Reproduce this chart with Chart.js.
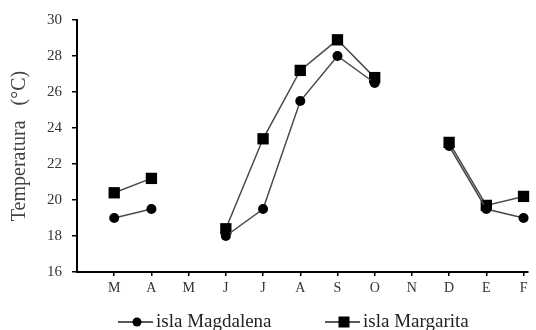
<!DOCTYPE html>
<html>
<head>
<meta charset="utf-8">
<script src="https://cdn.jsdelivr.net/npm/chart.js@4/dist/chart.umd.min.js"></script>
<style>
  html, body { margin:0; padding:0; background:#fff; }
  #wrap { width:536px; height:330px; position:relative; }
</style>
</head>
<body>
<div id="wrap"><canvas id="chart"></canvas></div>
<script>
// months from March to February
const months = ['M','A','M','J','J','A','S','O','N','D','E','F'];
const magdalena = [19.0, 19.5, null, 18.0, 19.5, 25.5, 28.0, 26.5, null, 23.0, 19.5, 19.0];
const margarita = [20.4, 21.2, null, 18.4, 23.4, 27.2, 28.9, 26.8, null, 23.2, 19.7, 20.2];
const yTicks = [16, 18, 20, 22, 24, 26, 28, 30];

const serif = '"Liberation Serif", "Times New Roman", serif';

const toPts = arr => arr.map((v, i) => ({ x: i, y: v }));

// legend drawn at the bottom: line + marker + label
const bottomLegend = {
  id: 'bottomLegend',
  afterDraw(chart){
    const ctx = chart.ctx;
    const items = [
      { ds: chart.data.datasets[0], x: 118 },
      { ds: chart.data.datasets[1], x: 325 }
    ];
    const y = 322;
    ctx.save();
    items.forEach(it => {
      ctx.strokeStyle = '#222';
      ctx.lineWidth = 1.5;
      ctx.beginPath(); ctx.moveTo(it.x, y); ctx.lineTo(it.x + 35, y); ctx.stroke();
      ctx.fillStyle = '#000';
      const cx = it.x + 19;
      if (it.ds.pointStyle === 'rect') {
        ctx.fillRect(cx - 5.5, y - 5.5, 11, 11);
      } else {
        ctx.beginPath(); ctx.arc(cx, y, 4.5, 0, Math.PI*2); ctx.fill();
      }
      ctx.fillStyle = '#222';
      ctx.font = '19px ' + serif;
      ctx.textBaseline = 'middle';
      ctx.fillText(it.ds.label, it.x + 38, y);
    });
    ctx.restore();
  }
};

new Chart(document.getElementById('chart'), {
  type: 'line',
  data: {
    datasets: [
      {
        label: 'isla Magdalena',
        data: toPts(magdalena),
        borderColor: '#4a4a4a',
        borderWidth: 1.5,
        pointStyle: 'circle',
        pointRadius: 5,
        pointBackgroundColor: '#000',
        pointBorderColor: '#000',
        pointBorderWidth: 0,
        spanGaps: false,
        clip: false
      },
      {
        label: 'isla Margarita',
        data: toPts(margarita),
        borderColor: '#4a4a4a',
        borderWidth: 1.5,
        pointStyle: 'rect',
        pointRadius: 8,
        pointBackgroundColor: '#000',
        pointBorderColor: '#000',
        pointBorderWidth: 0,
        spanGaps: false,
        clip: false
      }
    ]
  },
  options: {
    responsive: true,
    maintainAspectRatio: false,
    animation: false,
    layout: { padding: { top: 20, right: 0, left: 0, bottom: 0 } },
    plugins: { legend: { display: false }, tooltip: { enabled: false } },
    scales: {
      x: {
        type: 'linear',
        min: -1,
        max: 11.12,
        afterBuildTicks: s => { s.ticks = months.map((m, i) => ({ value: i })); },
        afterFit: s => { s.height = 58; },
        ticks: {
          autoSkip: false,
          maxRotation: 0,
          callback: v => months[v] ?? '',
          color: '#333',
          font: { family: serif, size: 14 },
          padding: 4
        },
        grid: { display: true, drawOnChartArea: false, drawTicks: true, tickLength: 4, color: '#000', lineWidth: 1.5 },
        border: { display: true, color: '#000', width: 2 }
      },
      y: {
        min: 16,
        max: 30,
        afterBuildTicks: s => { s.ticks = yTicks.map(v => ({ value: v })); },
        afterFit: s => { s.width = 77; },
        ticks: {
          color: '#333',
          font: { family: serif, size: 15 },
          padding: 10
        },
        title: {
          display: true,
          text: 'Temperatura   (°C)',
          color: '#444',
          font: { family: serif, size: 20 },
          padding: { top: 8, bottom: 0 }
        },
        grid: { display: true, drawOnChartArea: false, drawTicks: true, tickLength: 5, color: '#000', lineWidth: 1.5 },
        border: { display: true, color: '#000', width: 2 }
      }
    }
  },
  plugins: [bottomLegend]
});
</script>
</body>
</html>
